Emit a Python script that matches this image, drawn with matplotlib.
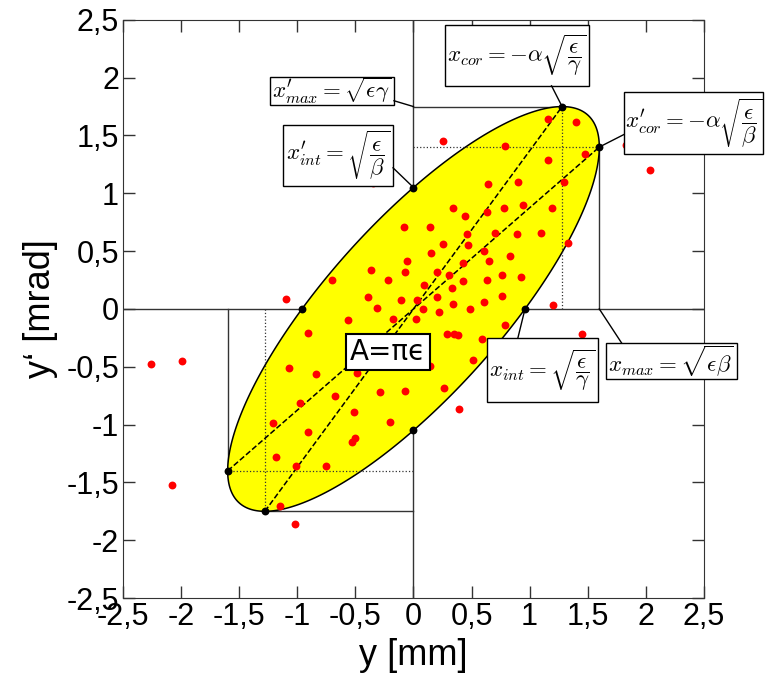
"""Phasenraum-Ellipse mit Teilchenverteilung"""
import matplotlib
matplotlib.use("Agg")
import matplotlib.pyplot as plt
import numpy as np
from matplotlib.patches import Polygon, Rectangle
from matplotlib.ticker import FuncFormatter, MultipleLocator

plt.rcParams['font.family'] = ['Liberation Sans', 'DejaVu Sans']
plt.rcParams['mathtext.fontset'] = 'cm'

# Twiss-Parameter der Ellipse
emittance = 1.68
beta = 1.524
alpha = -1.333
gamma = (1 + alpha ** 2) / beta

# Teilchen (y [mm], y' [mrad])
px = [0.25, 0.79, 0.64, 0.90, 0.34, 0.44, 0.63, 0.78, -0.35, 1.16, 1.40, 1.48,
      1.16, 1.30, 0.945, 1.19, 2.04, 1.83, -1.10, -2.26, -1.99, -0.91, -1.07,
      -0.84, -0.98, -0.08, 0.14, 0.46, 0.70, 0.89, 0.25, 0.47, 0.15, 0.61, 0.83,
      -0.06, 0.65, 0.43, -0.37, -0.07, 0.20, 0.31, 0.76, -0.70, -0.22, 0.43,
      0.63, 0.09, 0.33, -0.39, -0.11, 0.03, 0.20, 0.76, -0.31, 0.08, 0.22, 0.34,
      0.49, 0.61, -0.56, -0.18, 0.02, 0.79, 0.29, 0.35, 0.38, 0.59, 0.14, 0.51,
      -0.49, -0.68, -0.29, -0.07, 0.26, -0.51, 0.39, 1.10, 1.33, 0.93, 1.20,
      1.45, -1.21, -0.91, -1.18, -1.01, -2.08, -1.15, -1.02, -0.20, -0.53,
      -0.50, -0.75]
py = [1.45, 1.41, 1.08, 1.10, 0.87, 0.80, 0.84, 0.87, 1.085, 1.64, 1.62, 1.34,
      1.29, 1.10, 0.90, 0.87, 1.20, 1.42, 0.09, -0.48, -0.45, -0.21, -0.51,
      -0.56, -0.81, 0.71, 0.71, 0.65, 0.66, 0.65, 0.56, 0.55, 0.48, 0.50, 0.46,
      0.415, 0.415, 0.40, 0.335, 0.32, 0.32, 0.29, 0.29, 0.25, 0.25, 0.24, 0.25,
      0.21, 0.18, 0.10, 0.08, 0.08, 0.10, 0.11, 0.006, 0.0, -0.03, 0.04, 0.0,
      0.06, -0.095, -0.09, -0.09, -0.14, -0.22, -0.22, -0.225, -0.26, -0.49,
      -0.44, -0.55, -0.75, -0.72, -0.71, -0.68, -0.89, -0.865, 0.66, 0.57, 0.28,
      0.03, -0.22, -0.99, -1.06, -1.28, -1.36, -1.52, -1.70, -1.86, -0.98,
      -1.15, -1.12, -1.36]

# Kenngroessen der Ellipse
x_max = np.sqrt(emittance * beta)
xp_max = np.sqrt(emittance * gamma)
x_int = np.sqrt(emittance / gamma)
xp_int = np.sqrt(emittance / beta)
x_cor = -alpha * x_int
xp_cor = -alpha * xp_int

fig = plt.figure(figsize=(7.65, 6.82), dpi=100)
ax = fig.add_axes([0.161, 0.123, 0.759, 0.848])

# Achsenkreuz
ax.axhline(0, color='0.2', lw=1, zorder=1)
ax.axvline(0, color='0.2', lw=1, zorder=1)

# Ellipse
phi = np.linspace(0, 2 * np.pi, 400)
ex = x_max * np.cos(phi)
ey = -xp_int * (alpha * np.cos(phi) + np.sin(phi))
ax.add_patch(Polygon(np.column_stack([ex, ey]), closed=True, fc='#ffff00',
                     ec='black', lw=1.1, zorder=2))

# Hilfslinien
for s in (1, -1):
    ax.plot([0, s * x_cor], [s * xp_max, s * xp_max], color='0.2', lw=1, zorder=1)
    ax.plot([s * x_max, s * x_max], [0, s * xp_cor], color='0.2', lw=1, zorder=1)
    ax.plot([s * x_cor, s * x_cor], [0, s * xp_max], color='0.2', lw=0.9,
            ls=':', zorder=3)
    ax.plot([0, s * x_max], [s * xp_cor, s * xp_cor], color='0.2', lw=0.9,
            ls=':', zorder=3)
ax.plot([-x_cor, x_cor], [-xp_max, xp_max], 'k--', lw=1.1, zorder=3)
ax.plot([-x_max, x_max], [-xp_cor, xp_cor], 'k--', lw=1.1, zorder=3)

ax.scatter(px, py, s=32, color='#ff0000', zorder=4, linewidths=0)

kx = [x_cor, x_max, 0, x_int, -x_int, 0, -x_max, -x_cor]
ky = [xp_max, xp_cor, xp_int, 0, 0, -xp_int, -xp_cor, -xp_max]
ax.scatter(kx, ky, s=32, color='black', zorder=5, linewidths=0)

# Beschriftungen: Text, Punkt, Kasten (x0, x1, y0, y1), Ansatz der Linie
labels = [
    (r"$x^{\prime}_{max}=\sqrt{\epsilon\gamma}$", (0, xp_max),
     (-1.235, -0.168, 1.765, 2.007), (-0.168, 1.80)),
    (r"$x^{\prime}_{int}=\sqrt{\dfrac{\epsilon}{\beta}}$", (0, xp_int),
     (-1.123, -0.176, 1.064, 1.592), (-0.176, 1.22)),
    (r"$x_{cor}=-\alpha\sqrt{\dfrac{\epsilon}{\gamma}}$", (x_cor, xp_max),
     (0.271, 1.510, 1.929, 2.457), (1.189, 1.929)),
    (r"$x^{\prime}_{cor}=-\alpha\sqrt{\dfrac{\epsilon}{\beta}}$", (x_max, xp_cor),
     (1.812, 3.008, 1.341, 1.877), (1.812, 1.508)),
    (r"$x_{int}=\sqrt{\dfrac{\epsilon}{\gamma}}$", (x_int, 0),
     (0.633, 1.588, -0.804, -0.251), (0.899, -0.251)),
    (r"$x_{max}=\sqrt{\epsilon\beta}$", (x_max, 0),
     (1.657, 2.784, -0.606, -0.294), (1.792, -0.294)),
]
for txt, xy, (x0, x1, y0, y1), start in labels:
    ax.add_patch(Rectangle((x0, y0), x1 - x0, y1 - y0, fc='white', ec='black',
                           lw=1, zorder=6, clip_on=False))
    ax.plot([start[0], xy[0]], [start[1], xy[1]], color='black', lw=1,
            zorder=6, clip_on=False)
    ax.text((x0 + x1) / 2, (y0 + y1) / 2, txt, fontsize=16.5, ha='center',
            va='center', zorder=7, clip_on=False)

ax.text(-0.22, -0.37, "A=πϵ", fontsize=20, family=['DejaVu Sans'],
        ha='center', va='center', zorder=6,
        bbox=dict(boxstyle='square,pad=0.15', fc='white', ec='black', lw=1.5))

ax.set_xlim(-2.5, 2.5)
ax.set_ylim(-2.5, 2.5)
ax.xaxis.set_major_locator(MultipleLocator(0.5))
ax.yaxis.set_major_locator(MultipleLocator(0.5))
fmt = FuncFormatter(lambda v, p: f"{v:g}".replace('.', ','))
ax.xaxis.set_major_formatter(fmt)
ax.yaxis.set_major_formatter(fmt)
ax.tick_params(direction='in', length=8.5, width=1, top=True, right=True,
               labelsize=22, pad=3, color='0.2')
for sp in ax.spines.values():
    sp.set_color('0.2')
ax.set_xlabel("y [mm]", fontsize=26, labelpad=4)
ax.set_ylabel("y‘ [mrad]", fontsize=26, labelpad=6)

fig.savefig("out.png", dpi=100)
